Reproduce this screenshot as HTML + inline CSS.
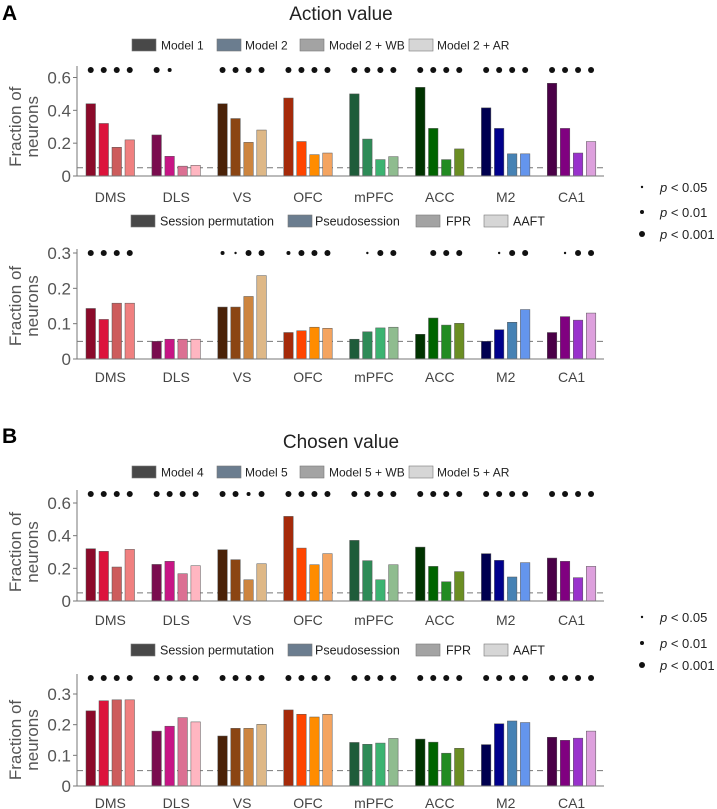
<!DOCTYPE html>
<html><head><meta charset="utf-8"><style>
html,body{margin:0;padding:0;background:#fff;}
svg{display:block;font-family:"Liberation Sans",sans-serif;}
</style></head><body>
<svg id="fig" width="717" height="809" viewBox="0 0 717 809">
<text x="2" y="20" font-size="21" font-weight="bold">A</text>
<text x="341" y="20" font-size="19" text-anchor="middle" fill="#222">Action value</text>
<text x="2" y="443" font-size="21" font-weight="bold">B</text>
<text x="341" y="448" font-size="19" text-anchor="middle" fill="#222">Chosen value</text>
<g id="legends"></g>
<g id="charts"></g>
</svg>
<script>
const regions = ["DMS","DLS","VS","OFC","mPFC","ACC","M2","CA1"];
const colors = [
 ["#8b0a2a","#dc143c","#cd5c5c","#f08080"],
 ["#7a0c4f","#c71585","#db7093","#ffb6c1"],
 ["#4a2208","#8b4513","#cd853f","#deb887"],
 ["#a52a0a","#ff4500","#ff8c00","#f4a460"],
 ["#1e5c3a","#2e8b57","#3cb371","#8fbc8f"],
 ["#003300","#006400","#228b22","#6b8e23"],
 ["#000050","#00008b","#4682b4","#6495ed"],
 ["#4b0048","#800080","#9932cc","#dda0dd"]];
const a1Values = [[.44,.32,.175,.22],[.25,.12,.06,.065],[.44,.35,.205,.28],[.475,.21,.13,.14],[.50,.225,.10,.118],[.54,.29,.10,.165],[.415,.29,.135,.135],[.565,.29,.14,.21]];
const a1Sig = [[3,3,3,3],[3,2,0,0],[3,3,3,3],[3,3,3,3],[3,3,3,3],[3,3,3,3],[3,3,3,3],[3,3,3,3]];
const a2Values = [[.143,.112,.158,.158],[.05,.056,.056,.056],[.147,.147,.177,.236],[.075,.08,.09,.087],[.056,.077,.088,.09],[.07,.116,.096,.101],[.05,.083,.104,.14],[.075,.12,.11,.13]];
const a2Sig = [[3,3,3,3],[0,0,0,0],[2,1,3,3],[2,3,3,3],[0,1,3,3],[0,3,3,3],[0,1,3,3],[0,1,3,3]];
const b1Values = [[.32,.304,.208,.316],[.224,.243,.167,.216],[.314,.253,.13,.228],[.518,.324,.222,.29],[.371,.247,.13,.222],[.33,.212,.118,.18],[.29,.249,.147,.235],[.263,.243,.143,.212]];
const b1Sig = [[3,3,3,3],[3,3,3,3],[3,3,2,3],[3,3,3,3],[3,3,3,3],[3,3,3,3],[3,3,3,3],[3,3,3,3]];
const b2Values = [[.245,.278,.281,.281],[.179,.195,.223,.209],[.163,.188,.188,.201],[.248,.234,.225,.234],[.142,.136,.14,.155],[.153,.143,.107,.123],[.135,.203,.212,.207],[.159,.149,.156,.179]];
const b2Sig = [[3,3,3,3],[3,3,3,3],[3,3,3,3],[3,3,3,3],[3,3,3,3],[3,3,3,3],[3,3,3,3],[3,3,3,3]];
const ticks06 = [0,0.2,0.4,0.6];
const tickLabels06 = ["0","0.2","0.4","0.6"];
const ticks03 = [0,0.1,0.2,0.3];
const tickLabels03 = ["0","0.1","0.2","0.3"];
const legendModelsA = ["Model 1","Model 2","Model 2 + WB","Model 2 + AR"];
const legendModelsB = ["Model 4","Model 5","Model 5 + WB","Model 5 + AR"];
const legendNull = ["Session permutation","Pseudosession","FPR","AAFT"];
const sigLabels = ["p < 0.05","p < 0.01","p < 0.001"];

const NS="http://www.w3.org/2000/svg";
function mk(tag,attrs,parent){const e=document.createElementNS(NS,tag);for(const k in attrs)e.setAttribute(k,attrs[k]);parent.appendChild(e);return e;}
const charts=document.getElementById('charts');
const legends=document.getElementById('legends');
const swFill=["#484848","#6b7d8f","#a3a3a3","#d6d6d6"];

function drawLegend(labels,y,xs,txs,name,fs){
  const g=mk('g',{},legends);
  
  
  labels.forEach((l,i)=>{
    const r=mk('rect',{x:xs[i],y:y-6,width:24,height:12,fill:swFill[i],stroke:"#777","stroke-width":0.6},g);
    
    
    const t=mk('text',{x:txs[i],y:y+4.5,"font-size":fs,fill:"#222"},g);
    
    
    t.textContent=l;
  });
}
drawLegend(legendModelsA,45,[132,217,300,409],[161,245,329,437],'legend-models-a',12);
drawLegend(legendModelsB,472,[132,217,300,409],[161,245,329,437],'legend-models-b',12);
drawLegend(legendNull,221,[131,288,416,484],[160,315,446,513],'legend-null-a',12.5);
drawLegend(legendNull,650,[131,288,416,484],[160,315,446,513],'legend-null-b',12.5);

function sigLegend(ys,name){
  const g=mk('g',{},legends);
  
  
  const rs=[1.2,2,3];
  sigLabels.forEach((l,i)=>{
    const c=mk('circle',{cx:642,cy:ys[i],r:rs[i],fill:"#111"},g);
    
    
    const t=mk('text',{x:660,y:ys[i]+5,"font-size":13,fill:"#222"},g);
    
    
    t.innerHTML='<tspan font-style="italic">p</tspan> '+l.slice(2).replace('<','&lt;');
  });
}
sigLegend([187,212,234],'sig-legend-a');
sigLegend([617,643,665],'sig-legend-b');

function chart(vals,sig,ticks,tlabels,ymax,y0,ytop,dotY,labY,name){
  const g=mk('g',{},charts);
  
  
  const sy=v=>y0-(v/ymax)*(y0-ytop);
  const gx=(gi,bi)=>86+gi*65.9+bi*13;
  const ya=mk('line',{x1:77,x2:77,y1:Math.min(dotY,ytop)-4,y2:y0,stroke:"#777","stroke-width":1},g);
  
  ticks.forEach((t,i)=>{
    mk('line',{x1:73,x2:77,y1:sy(t),y2:sy(t),stroke:"#777"},g);
    const tx=mk('text',{x:71,y:sy(t)+6,"font-size":17,"text-anchor":"end",fill:"#555"},g);
    
    tx.textContent=tlabels[i];
  });
  const yl=mk('text',{transform:`translate(24,${(y0+ytop)/2}) rotate(-90)`,"font-size":17,"text-anchor":"middle",fill:"#555"},g);
  
  yl.innerHTML='<tspan x="0" dy="-3">Fraction of</tspan><tspan x="0" dy="17">neurons</tspan>';
  const dash=mk('line',{x1:77,x2:604,y1:sy(0.05),y2:sy(0.05),stroke:"#777","stroke-dasharray":"6,4","stroke-width":1},g);
  
  vals.forEach((grp,gi)=>{
    grp.forEach((v,bi)=>{
      const x=gx(gi,bi);
      const r=mk('rect',{x:x,y:sy(v),width:9.5,height:y0-sy(v),fill:colors[gi][bi],stroke:"#555","stroke-width":0.5},g);
      
      
      const s=sig[gi][bi];
      if(s>0){
        const d=mk('circle',{cx:x+4.75,cy:dotY,r:[0,1.2,2,3][s],fill:"#111"},g);
        
        
      }
    });
    const lt=mk('text',{x:gx(gi,0)+24.3,y:labY+5,"font-size":14,"text-anchor":"middle",fill:"#444"},g);
    
    lt.textContent=regions[gi];
  });
  const xa=mk('line',{x1:77,x2:604,y1:y0,y2:y0,stroke:"#777","stroke-width":1},g);
  
}
chart(a1Values,a1Sig,ticks06,tickLabels06,0.6,176,77.5,70,197,'chart-action-value-models');
chart(a2Values,a2Sig,ticks03,tickLabels03,0.3,359,253,253,377,'chart-action-value-null');
chart(b1Values,b1Sig,ticks06,tickLabels06,0.6,601,503,494,620,'chart-chosen-value-models');
chart(b2Values,b2Sig,ticks03,tickLabels03,0.3,786,694,678,803,'chart-chosen-value-null');
</script>
</body></html>
